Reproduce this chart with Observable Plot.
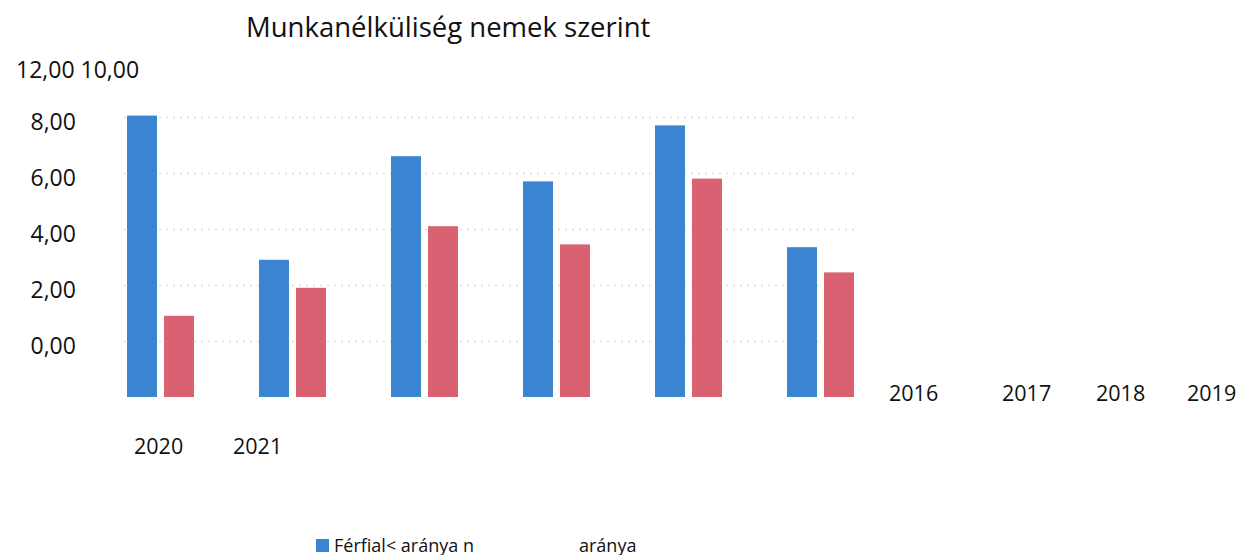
<!DOCTYPE html>
<html><head><meta charset="utf-8">
<script src="https://cdn.jsdelivr.net/npm/d3@7"></script>
<script src="https://cdn.jsdelivr.net/npm/@observablehq/plot@0.6"></script>
<style>
body{margin:0;background:#fff;}
#wrap{position:relative;width:1239px;height:555px;overflow:hidden;}
</style></head><body><div id="wrap"></div>
<script>
// --- data ---
const years = ["2016", "2017", "2018", "2019", "2020", "2021"];
const ferfi = [10.05, 4.9, 8.6, 7.7, 9.7, 5.35];
const nok = [2.9, 3.9, 6.1, 5.45, 7.8, 4.45];
const gridValues = [2, 4, 6, 8, 10];
const yTickLabels = ["0,00", "2,00", "4,00", "6,00", "8,00"];
const topAxisLabel = "12,00 10,00";
const title = "Munkanélküliség nemek szerint";
const legendLabels = ["Férfial< aránya n", "aránya"];
const colors = ["#3b84d2", "#da6171"];

const data = years.map((y, i) => ({year: y, f: ferfi[i], n: nok[i]}));
const ticks = gridValues.map((v, i) => ({v, label: yTickLabels[i]}));
const font = "'Open Sans', sans-serif";

const chart = Plot.plot({
  width: 1239, height: 555,
  marginLeft: 124, marginRight: 383, marginTop: 117, marginBottom: 158,
  x: {domain: years, paddingInner: 0.496, paddingOuter: 0, axis: null},
  y: {domain: [0, 10], axis: null},
  style: {background: "#fff", fontFamily: font, overflow: "visible"},
  marks: [
    Plot.ruleY(gridValues, {stroke: "#dcdcdc", strokeDasharray: "2,5", strokeWidth: 1.5}),
    Plot.barY(data, {x: "year", y: "f", fill: colors[0], insetRight: 37}),
    Plot.barY(data, {x: "year", y: "n", fill: colors[1], insetLeft: 37}),
    Plot.text(ticks, {y: "v", text: "label", frameAnchor: "left", dx: -94, dy: 5,
      textAnchor: "start", fontSize: 23, fill: "#111"})
  ]
});
document.getElementById("wrap").appendChild(chart);

// scattered labels as they appear in the reference
const svg = d3.select(chart);
const addText = (txt, x, y, size) => svg.append("text").attr("x", x).attr("y", y)
  .attr("text-anchor", "start")
  .attr("font-family", font).attr("font-size", size).attr("fill", "#111").text(txt);
addText(title, 246, 37, 27.5);
addText(topAxisLabel, 16, 78, 23);
const yearPos = [[889, 401], [1002, 401], [1096, 401], [1187, 401], [134, 454], [233, 454]];
years.forEach((y, i) => addText(y, yearPos[i][0], yearPos[i][1], 21.5));
svg.append("rect").attr("x", 316).attr("y", 539).attr("width", 13).attr("height", 13).attr("fill", colors[0]);
addText(legendLabels[0], 334, 552, 18);
addText(legendLabels[1], 579, 552, 18);
</script></body></html>
